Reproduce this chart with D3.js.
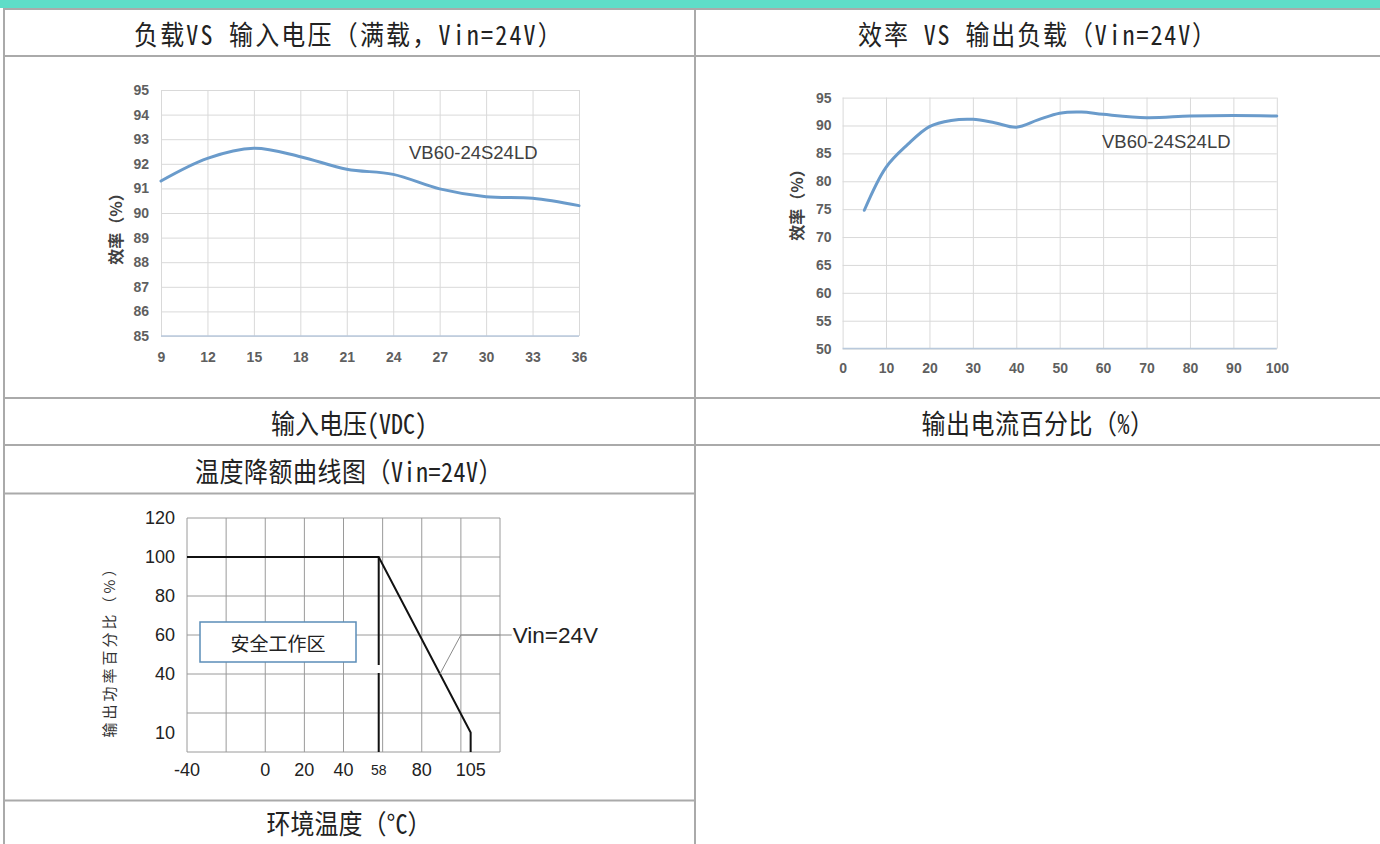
<!DOCTYPE html>
<html>
<head>
<meta charset="utf-8">
<script src="https://cdn.jsdelivr.net/npm/d3@7"></script>
<style>
  body { margin: 0; background: #fff; }
  svg { display: block; }
</style>
</head>
<body>
<div id="page"></div>
<script>
// ---- text of the table ----
const headTitles = ['负载VS 输入电压（满载，Vin=24V）', '效率 VS 输出负载（Vin=24V）'];
const headAxis = ['输入电压(VDC)', '输出电流百分比（%）'];
const deratingTitle = '温度降额曲线图（Vin=24V）';
const deratingAxis = '环境温度（°C）';
const effAxisTitle = '效率（%）';
const modelName = 'VB60-24S24LD';

// ---- efficiency vs input voltage ----
const vinVolts = [9, 12, 15, 18, 21, 24, 27, 30, 33, 36];
const vinEff = [91.30, 92.22, 92.63, 92.29, 91.78, 91.57, 90.98, 90.66, 90.60, 90.30];
const vinXTicks = [9, 12, 15, 18, 21, 24, 27, 30, 33, 36];
const vinYTicks = [85, 86, 87, 88, 89, 90, 91, 92, 93, 94, 95];

// ---- efficiency vs output load ----
const loadPct = [5, 10, 15, 20, 25, 30, 35, 40, 45, 50, 55, 60, 70, 80, 90, 100];
const loadEff = [74.8, 82.5, 86.6, 89.8, 90.9, 91.1, 90.5, 89.7, 91.0, 92.2, 92.4, 92.0, 91.4, 91.7, 91.8, 91.7];
const loadXTicks = [0, 10, 20, 30, 40, 50, 60, 70, 80, 90, 100];
const loadYTicks = [50, 55, 60, 65, 70, 75, 80, 85, 90, 95];

// ---- temperature derating ----
const deratingTemp = [-40, 58, 105, 105];
const deratingPower = [100, 100, 10, 0];
const tempTickLabels = [-40, 0, 20, 40, 58, 80, 105];
const tempGrid = [-40, -20, 0, 20, 40, 60, 80, 100, 120];
const powerTickLabels = [120, 100, 80, 60, 40, 10];
const powerGrid = [0, 20, 40, 60, 80, 100, 120];
const kneeTemp = 58;
const leaderTemp = [89.3, 100, 126];
const leaderPower = [40, 60, 60];
const powerAxisTitle = '输出功率百分比（%）';
const safeZoneLabel = '安全工作区';
const curveLabel = 'Vin=24V';

const W = 1380, H = 844;
const border = '#aaaaaa';
const headFont = '"Noto Sans Mono CJK SC", "Noto Sans CJK SC", sans-serif';

const svg = d3.select('#page').append('svg')
  .attr('width', W).attr('height', H)
  .attr('viewBox', `0 0 ${W} ${H}`);

// teal strip on top
svg.append('rect').attr('x', 0).attr('y', 0).attr('width', W).attr('height', 8).attr('fill', '#5fddc8');

// table lines
const tbl = svg.append('g').attr('stroke', border).attr('stroke-width', 2);
[[3, W, 9], [3, W, 56], [3, W, 398], [3, W, 445], [3, 696, 493.5], [3, 696, 800.5]].forEach(([a, b, y]) => {
  tbl.append('line').attr('x1', a).attr('x2', b).attr('y1', y).attr('y2', y);
});
[4, 695].forEach(x => tbl.append('line').attr('x1', x).attr('x2', x).attr('y1', 8).attr('y2', H));

// header / footer cells (source font is tall and narrow -> stretch a bit vertically)
function cellText(x, y, t, spacing) {
  svg.append('text')
    .attr('transform', `translate(${x},${y}) scale(1,1.12)`)
    .attr('text-anchor', 'middle').attr('dominant-baseline', 'central')
    .attr('font-family', headFont).attr('font-size', 24).attr('fill', '#222')
    .attr('letter-spacing', spacing || 0)
    .text(t);
}
cellText(349, 33, headTitles[0], 2.2);
cellText(1038, 33, headTitles[1], 1.9);
cellText(349, 422, headAxis[0]);
cellText(1038, 422, headAxis[1], 0.5);
cellText(349, 470, deratingTitle, 0.5);
cellText(349, 822, deratingAxis);

// ---- excel-like efficiency charts ----
function effChart(o) {
  const g = svg.append('g');
  const x = d3.scaleLinear().domain(o.xDomain).range([o.x0, o.x1]);
  const y = d3.scaleLinear().domain(o.yDomain).range([o.yBot, o.yTop]);
  const tickFont = '"Liberation Sans", Arial, sans-serif';

  const ya = g.append('g').attr('transform', `translate(${o.x0},0)`)
    .call(d3.axisLeft(y).tickValues(o.yTicks).tickSize(-(o.x1 - o.x0)).tickPadding(o.yPad));
  const xa = g.append('g').attr('transform', `translate(0,${o.yBot})`)
    .call(d3.axisBottom(x).tickValues(o.xTicks).tickSize(-(o.yBot - o.yTop)).tickPadding(o.xPad));
  [ya, xa].forEach(a => {
    a.select('.domain').remove();
    a.selectAll('line').attr('stroke', '#d9d9d9').attr('stroke-width', 1);
    a.selectAll('text').attr('font-family', tickFont).attr('font-weight', 'bold')
      .attr('font-size', 14).attr('fill', '#5f5f5f');
  });
  // horizontal axis line
  g.append('line').attr('x1', o.x0).attr('x2', o.x1).attr('y1', o.yBot).attr('y2', o.yBot)
    .attr('stroke', '#b9c9dc').attr('stroke-width', 1.5);

  const line = d3.line().x(d => x(d[0])).y(d => y(d[1])).curve(d3.curveCatmullRom.alpha(0.5));
  g.append('path').datum(d3.zip(o.xs, o.ys))
    .attr('d', line).attr('fill', 'none')
    .attr('stroke', '#6a9bcb').attr('stroke-width', 3).attr('stroke-linecap', 'round');

  g.append('text').attr('x', o.labelX).attr('y', o.labelY)
    .attr('font-family', tickFont).attr('font-size', 18.5).attr('fill', '#404040')
    .text(modelName);

  g.append('text')
    .attr('transform', `translate(${o.titleX},${o.titleY}) rotate(-90)`)
    .attr('text-anchor', 'middle').attr('dominant-baseline', 'central')
    .attr('font-family', '"Noto Sans CJK SC", sans-serif').attr('font-weight', 'bold')
    .attr('font-size', 16).attr('fill', '#404040')
    .text(effAxisTitle);
}

effChart({
  xs: vinVolts, ys: vinEff, xDomain: [9, 36], yDomain: [85, 95],
  xTicks: vinXTicks, yTicks: vinYTicks,
  x0: 161, x1: 579, yTop: 90, yBot: 336, yPad: 12, xPad: 16,
  labelX: 409, labelY: 159, titleX: 115, titleY: 225
});

effChart({
  xs: loadPct, ys: loadEff, xDomain: [0, 100], yDomain: [50, 95],
  xTicks: loadXTicks, yTicks: loadYTicks,
  x0: 842.6, x1: 1276.8, yTop: 97.6, yBot: 348.6, yPad: 11, xPad: 14,
  labelX: 1102, labelY: 147.5, titleX: 796, titleY: 201
});

// ---- temperature derating chart ----
(function () {
  const g = svg.append('g');
  const x = d3.scaleLinear().domain([-40, 120]).range([187, 500]);
  const y = d3.scaleLinear().domain([0, 120]).range([752, 518]);
  const font = '"Liberation Sans", Arial, sans-serif';

  // grid
  g.append('g').selectAll('line').data(tempGrid).join('line')
    .attr('x1', d => x(d)).attr('x2', d => x(d)).attr('y1', y(0)).attr('y2', y(120))
    .attr('stroke', '#9a9a9a').attr('stroke-width', 1);
  g.append('g').selectAll('line').data(powerGrid).join('line')
    .attr('y1', d => y(d)).attr('y2', d => y(d)).attr('x1', x(-40)).attr('x2', x(120))
    .attr('stroke', '#9a9a9a').attr('stroke-width', 1);

  // tick labels
  g.append('g').selectAll('text').data(powerTickLabels).join('text')
    .attr('x', x(-40) - 12).attr('y', d => y(d))
    .attr('text-anchor', 'end').attr('dominant-baseline', 'central')
    .attr('font-family', font).attr('font-size', 18).attr('fill', '#222')
    .text(d => d);
  g.append('g').selectAll('text').data(tempTickLabels).join('text')
    .attr('x', d => x(d)).attr('y', y(0) + 18)
    .attr('text-anchor', 'middle').attr('dominant-baseline', 'central')
    .attr('font-family', font).attr('font-size', d => d === kneeTemp ? 14 : 18).attr('fill', '#222')
    .text(d => d);

  // knee marker
  g.append('line').attr('x1', x(kneeTemp)).attr('x2', x(kneeTemp)).attr('y1', y(100)).attr('y2', y(0))
    .attr('stroke', '#111').attr('stroke-width', 2).attr('stroke-dasharray', '108,8');

  // derating curve
  g.append('path').datum(d3.zip(deratingTemp, deratingPower))
    .attr('d', d3.line().x(d => x(d[0])).y(d => y(d[1])))
    .attr('fill', 'none').attr('stroke', '#111').attr('stroke-width', 2);

  // leader to curve label
  g.append('path').datum(d3.zip(leaderTemp, leaderPower))
    .attr('d', d3.line().x(d => x(d[0])).y(d => y(d[1])))
    .attr('fill', 'none').attr('stroke', '#8a8a8a').attr('stroke-width', 1);
  g.append('text').attr('x', x(126) + 1).attr('y', y(60))
    .attr('dominant-baseline', 'central')
    .attr('font-family', font).attr('font-size', 22.5).attr('fill', '#222')
    .text(curveLabel);

  // safe zone box
  g.append('rect').attr('x', 200).attr('y', 622).attr('width', 156).attr('height', 40)
    .attr('fill', '#fff').attr('stroke', '#5b8db8').attr('stroke-width', 1.5);
  g.append('text').attr('x', 278).attr('y', 642)
    .attr('text-anchor', 'middle').attr('dominant-baseline', 'central')
    .attr('font-family', '"Noto Sans CJK SC", sans-serif').attr('font-size', 19).attr('fill', '#222')
    .text(safeZoneLabel);

  // y title
  g.append('text')
    .attr('transform', `translate(108,648) rotate(-90)`)
    .attr('text-anchor', 'middle').attr('dominant-baseline', 'central')
    .attr('font-family', '"Noto Sans CJK SC", sans-serif')
    .attr('font-size', 15).attr('letter-spacing', 3).attr('fill', '#333')
    .text(powerAxisTitle);
})();
</script>
</body>
</html>
